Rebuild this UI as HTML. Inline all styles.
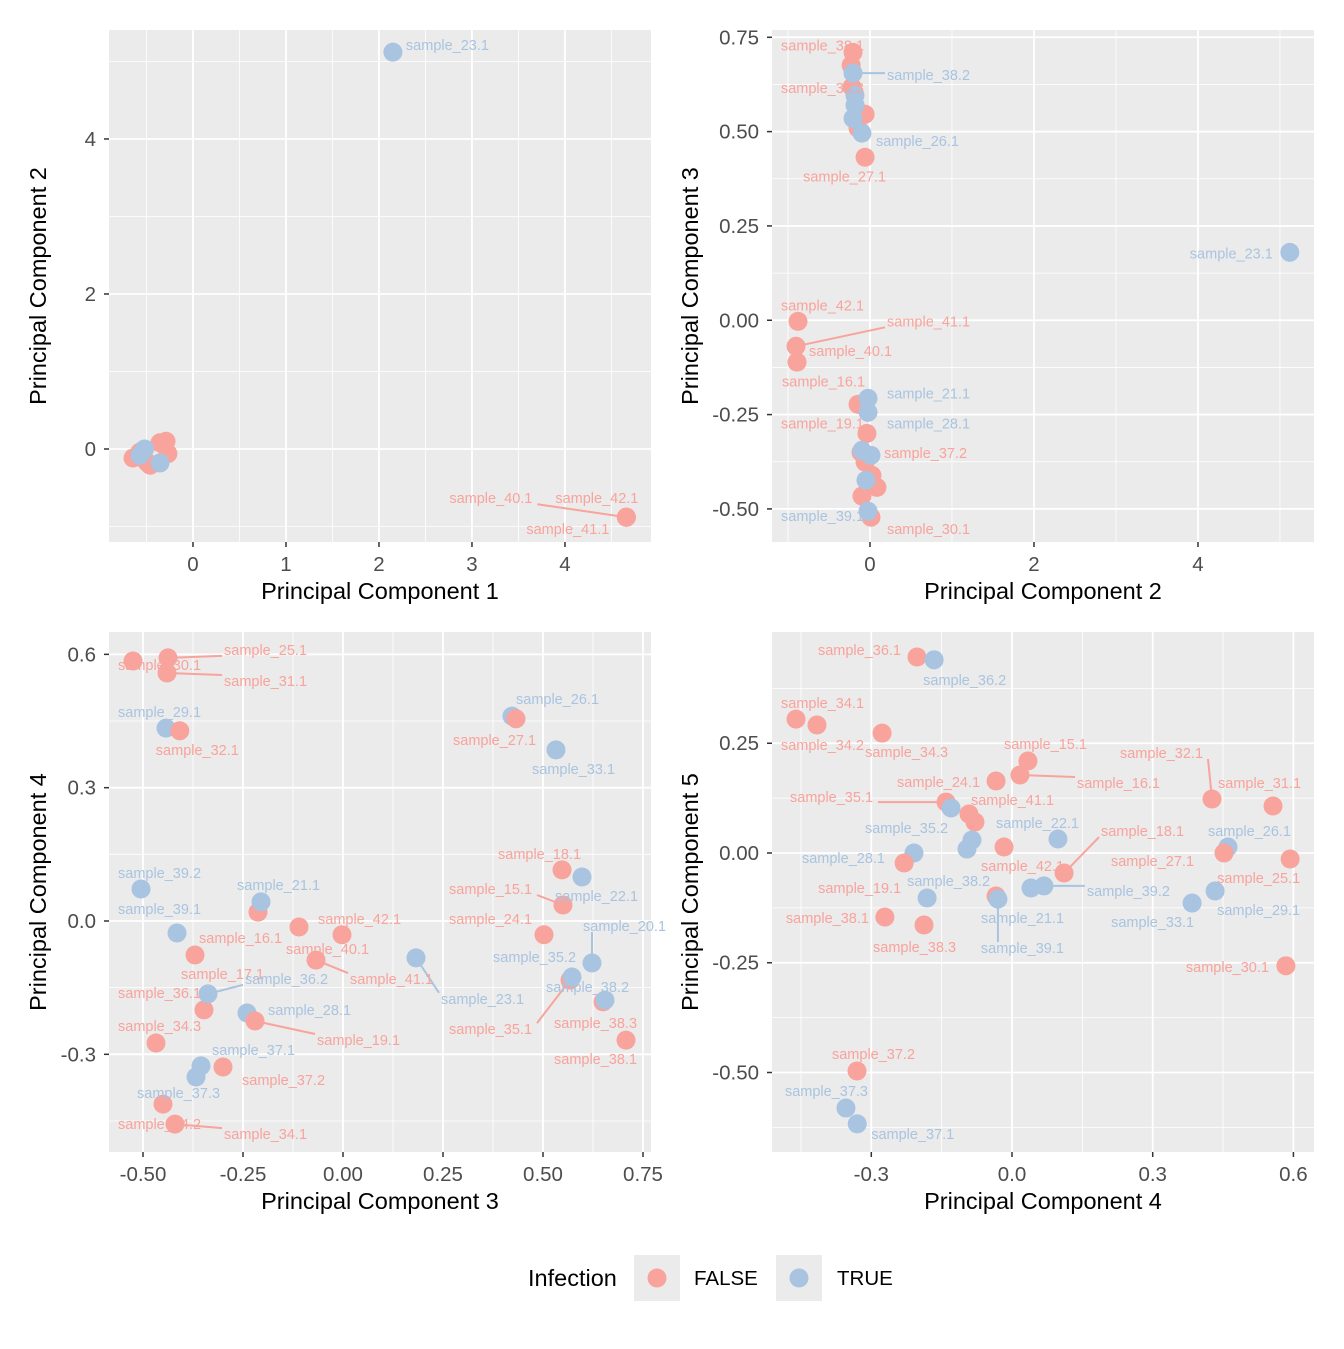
<!DOCTYPE html>
<html><head><meta charset="utf-8">
<style>
body{margin:0;background:#fff;}
svg text{font-family:"Liberation Sans",sans-serif;}
</style></head>
<body>
<svg id="chart" width="1344" height="1344" xmlns="http://www.w3.org/2000/svg">
<rect width="1344" height="1344" fill="#fff"/>
</svg>
<script>
// Panel 1 data: PC1 vs PC2
const p1Points = [
 [-0.645,-0.116,"F",""],[-0.57,-0.04,"F",""],[-0.495,-0.17,"F",""],[-0.355,0.08,"F",""],
 [-0.29,0.10,"F",""],[-0.27,-0.06,"F",""],[-0.46,-0.21,"F",""],
 [-0.52,0.0,"T",""],[-0.355,-0.18,"T",""],[-0.57,-0.08,"T",""],
 [2.15,5.12,"T","sample_23.1",13,-7,0],
 [4.66,-0.88,"F","sample_40.1",-177,-19,1],
 [4.66,-0.88,"F","sample_42.1",-71,-19,0],
 [4.66,-0.88,"F","sample_41.1",-100,12,0]
];
const p1XTicks=[0,1,2,3,4];
const p1YTicks=[0,2,4];
// Panel 2: PC2 vs PC3
const p2Points = [
 [-0.207,0.710,"F","sample_38.1",-72,-7,0],
 [-0.23,0.676,"F","",0,0,0],
 [-0.22,0.618,"F","sample_38.3",-71,1,0],
 [-0.06,0.546,"F","",0,0,0],
 [-0.146,0.509,"F","",0,0,0],
 [-0.06,0.432,"F","sample_27.1",-62,19,0],
 [-0.878,-0.003,"F","sample_42.1",-17,-16,0],
 [-0.902,-0.069,"F","sample_41.1",91,-25,1],
 [-0.89,-0.111,"F","sample_40.1",12,-11,0],
 [-0.146,-0.223,"F","sample_16.1",-76,-23,0],
 [-0.037,-0.300,"F","sample_19.1",-86,-10,0],
 [-0.06,-0.376,"F","sample_37.2",19,-9,0],
 [-0.11,-0.35,"F","",0,0,0],
 [0.024,-0.411,"F","",0,0,0],
 [0.085,-0.443,"F","",0,0,0],
 [-0.098,-0.466,"F","",0,0,0],
 [0.012,-0.522,"F","sample_30.1",16,12,0],
 [-0.207,0.655,"T","sample_38.2",34,2,1],
 [-0.183,0.596,"T","",0,0,0],
 [-0.183,0.570,"T","",0,0,0],
 [-0.207,0.535,"T","",0,0,0],
 [-0.098,0.496,"T","sample_26.1",14,8,0],
 [5.12,0.180,"T","sample_23.1",-100,1,0],
 [-0.024,-0.207,"T","sample_21.1",19,-5,0],
 [-0.024,-0.244,"T","sample_28.1",19,11,0],
 [-0.098,-0.345,"T","",0,0,0],
 [0.012,-0.358,"T","",0,0,0],
 [-0.049,-0.424,"T","",0,0,0],
 [-0.024,-0.506,"T","sample_39.1",-87,5,0]
];
const p2XTicks=[0,2,4];
const p2YTicks=[-0.5,-0.25,0,0.25,0.5,0.75];
// Panel 3: PC3 vs PC4
const p3Points = [
 [-0.4375,0.592,"F","sample_25.1",56,-8,1],
 [-0.525,0.585,"F","sample_30.1",-15,4,0],
 [-0.44,0.558,"F","sample_31.1",57,8,1],
 [-0.4425,0.434,"T","sample_29.1",-48,-16,0],
 [-0.408,0.428,"F","sample_32.1",-24,19,0],
 [0.4225,0.461,"T","sample_26.1",4,-17,0],
 [0.4325,0.455,"F","sample_27.1",-63,21,0],
 [0.5325,0.385,"T","sample_33.1",-24,19,0],
 [0.5475,0.115,"F","sample_18.1",-64,-16,0],
 [0.55,0.036,"F","sample_15.1",-114,-16,1],
 [0.5975,0.099,"T","sample_22.1",-27,19,0],
 [0.5025,-0.031,"F","sample_24.1",-95,-16,0],
 [0.6225,-0.0945,"T","sample_20.1",-9,-37,1],
 [0.5675,-0.133,"F","sample_35.1",-121,49,1],
 [0.5725,-0.126,"T","sample_35.2",-79,-20,0],
 [0.65,-0.182,"F","sample_38.3",-49,21,0],
 [0.655,-0.178,"T","sample_38.2",-59,-13,0],
 [0.7075,-0.268,"F","sample_38.1",-72,19,0],
 [-0.505,0.072,"T","sample_39.2",-23,-16,0],
 [-0.415,-0.027,"T","sample_39.1",-59,-24,0],
 [-0.2125,0.02,"F","sample_16.1",-59,26,0],
 [-0.205,0.043,"T","sample_21.1",-24,-17,0],
 [-0.37,-0.0765,"F","sample_17.1",-14,19,0],
 [-0.0025,-0.031,"F","sample_42.1",-24,-16,0],
 [-0.11,-0.0135,"F","sample_40.1",-13,22,0],
 [-0.0675,-0.088,"F","sample_41.1",34,19,1],
 [0.1825,-0.083,"T","sample_23.1",25,41,1],
 [-0.3475,-0.2,"F","sample_36.1",-86,-17,0],
 [-0.3375,-0.164,"T","sample_36.2",37,-15,1],
 [-0.24,-0.207,"T","sample_28.1",21,-3,0],
 [-0.22,-0.225,"F","sample_19.1",62,19,1],
 [-0.4675,-0.2745,"F","sample_34.3",-38,-17,0],
 [-0.3,-0.3285,"F","sample_37.2",19,13,0],
 [-0.355,-0.326,"T","sample_37.1",11,-16,0],
 [-0.3675,-0.351,"T","sample_37.3",-59,16,0],
 [-0.45,-0.412,"F","sample_34.2",-45,20,0],
 [-0.42,-0.457,"F","sample_34.1",49,10,1]
];
const p3XTicks=[-0.5,-0.25,0,0.25,0.5,0.75];
const p3XLabels=["-0.50","-0.25","0.00","0.25","0.50","0.75"];
const p3YTicks=[-0.3,0,0.3,0.6];
const p3YLabels=["-0.3","0.0","0.3","0.6"];
// Panel 4: PC4 vs PC5
const p4Points = [
 [-0.2026,0.4465,"F","sample_36.1",-99,-7,0],
 [-0.166,0.44,"T","sample_36.2",-11,20,0],
 [-0.4605,0.305,"F","sample_34.1",-15,-16,0],
 [-0.4158,0.2916,"F","sample_34.2",-36,20,0],
 [-0.277,0.273,"F","sample_34.3",-17,19,0],
 [0.034,0.2096,"F","sample_15.1",-24,-17,0],
 [-0.034,0.164,"F","sample_24.1",-99,1,0],
 [0.017,0.1777,"F","sample_16.1",57,8,1],
 [0.4264,0.123,"F","sample_32.1",-92,-46,1],
 [0.5565,0.107,"F","sample_31.1",-55,-23,0],
 [-0.1407,0.116,"F","sample_35.1",-156,-5,1],
 [-0.0917,0.0888,"F","sample_41.1",2,-14,0],
 [-0.079,0.0706,"F","",0,0,0],
 [-0.130,0.1025,"T","",0,0,0],
 [-0.0853,0.0296,"T","sample_35.2",-107,-12,0],
 [0.098,0.0319,"T","sample_22.1",-62,-16,0],
 [0.111,-0.0456,"F","sample_18.1",37,-42,1],
 [0.4605,0.0137,"T","sample_26.1",-20,-16,0],
 [-0.209,0.0,"T","sample_28.1",-112,5,0],
 [-0.096,0.009,"T","",0,0,0],
 [0.452,0.0,"F","sample_27.1",-113,8,0],
 [0.593,-0.0137,"F","sample_25.1",-73,19,0],
 [0.433,-0.0866,"T","sample_29.1",2,19,0],
 [0.384,-0.114,"T","sample_33.1",-81,19,0],
 [-0.017,0.0137,"F","",0,0,0],
 [-0.23,-0.0228,"F","sample_19.1",-86,25,0],
 [-0.034,-0.098,"F","sample_42.1",-15,-30,0],
 [0.068,-0.075,"T","sample_39.2",43,5,1],
 [-0.181,-0.1025,"T","sample_38.2",-20,-17,0],
 [0.0405,-0.0797,"T","sample_21.1",-50,30,0],
 [-0.03,-0.105,"T","sample_39.1",-17,49,1],
 [-0.271,-0.146,"F","sample_38.1",-99,1,0],
 [-0.1876,-0.164,"F","sample_38.3",-51,22,0],
 [0.584,-0.257,"F","sample_30.1",-100,1,0],
 [-0.3305,-0.4966,"F","sample_37.2",-25,-17,0],
 [-0.354,-0.581,"T","sample_37.3",-61,-17,0],
 [-0.33,-0.617,"T","sample_37.1",14,10,0]
];
const p4XTicks=[-0.3,0,0.3,0.6];
const p4XLabels=["-0.3","0.0","0.3","0.6"];
const p4YTicks=[-0.5,-0.25,0,0.25];
const p4YLabels=["-0.50","-0.25","0.00","0.25"];

const NS="http://www.w3.org/2000/svg";
const svg=document.getElementById('chart');
const COL={F:"#F8A39B",T:"#A8C4E0"};
function mk(tag,attrs,parent){const e=document.createElementNS(NS,tag);for(const k in attrs)e.setAttribute(k,attrs[k]);(parent||svg).appendChild(e);return e;}

function panel(cfg){
  const g=mk('g',{});
  
  
  const {L,R,T,B,x0,x1,y0,y1}=cfg;
  const sx=v=>L+(v-x0)/(x1-x0)*(R-L);
  const sy=v=>B-(v-y0)/(y1-y0)*(B-T);
  const bg=mk('rect',{x:L,y:T,width:R-L,height:B-T,fill:"#EBEBEB"},g);
  
  
  const xt=cfg.xt, yt=cfg.yt;
  const dx=xt[1]-xt[0], dy=yt[1]-yt[0];
  for(let v=xt[0]-dx/2; v<=x1; v+=dx){ if(v<x0)continue; const p=sx(v); const l=mk('line',{x1:p,x2:p,y1:T,y2:B,stroke:"#fff","stroke-width":0.8},g);  }
  for(let v=yt[0]-dy/2; v<=y1; v+=dy){ if(v<y0)continue; const p=sy(v); const l=mk('line',{x1:L,x2:R,y1:p,y2:p,stroke:"#fff","stroke-width":0.8},g);  }
  xt.forEach((v,i)=>{const p=sx(v);
    const l=mk('line',{x1:p,x2:p,y1:T,y2:B,stroke:"#fff","stroke-width":1.8},g);
     
    const tk=mk('line',{x1:p,x2:p,y1:B,y2:B+5,stroke:"#333","stroke-width":1.5},g);
     
    const t=mk('text',{x:p,y:B+29,"text-anchor":"middle","font-size":20.5,fill:"#4D4D4D"},g);
    t.textContent=cfg.xl?cfg.xl[i]:String(v);
     
  });
  yt.forEach((v,i)=>{const p=sy(v);
    const l=mk('line',{x1:L,x2:R,y1:p,y2:p,stroke:"#fff","stroke-width":1.8},g);
     
    const tk=mk('line',{x1:L-5,x2:L,y1:p,y2:p,stroke:"#333","stroke-width":1.5},g);
     
    const t=mk('text',{x:L-13,y:p+7,"text-anchor":"end","font-size":20.5,fill:"#4D4D4D"},g);
    t.textContent=cfg.yl?cfg.yl[i]:String(v);
     
  });
  const xtT=mk('text',{x:(L+R)/2,y:B+57,"text-anchor":"middle","font-size":23.5,fill:"#000"},g);
  xtT.textContent=cfg.xTitle;
   
  const ytT=mk('text',{x:0,y:0,"text-anchor":"middle","font-size":23.5,fill:"#000",transform:`translate(${cfg.ytx},${(T+B)/2}) rotate(-90)`},g);
  ytT.textContent=cfg.yTitle;
   
  const W=86,H=12;
  cfg.pts.forEach(p=>{ if(!p[3]||!p[6])return;
    const px=sx(p[0]),py=sy(p[1]); const lx=px+p[4], ly=py+p[5];
    const ex=Math.min(Math.max(px,lx-2),lx+W+2), ey=Math.min(Math.max(py,ly-H/2),ly+H/2);
    const s=mk('line',{x1:px,y1:py,x2:ex,y2:ey,stroke:COL[p[2]],"stroke-width":2},g);
     
  });
  cfg.pts.forEach(p=>{
    const c=mk('circle',{cx:sx(p[0]),cy:sy(p[1]),r:9.5,fill:COL[p[2]]},g);
     
  });
  cfg.pts.forEach(p=>{ if(!p[3])return;
    const t=mk('text',{x:sx(p[0])+p[4],y:sy(p[1])+p[5]+5,"font-size":14.5,fill:COL[p[2]]},g);
    t.textContent=p[3];
     
  });
}
panel({name:'panel-pc1-pc2',ytx:46,L:109,R:651,T:30,B:542,x0:-0.903,x1:4.925,y0:-1.2,y1:5.406,xt:p1XTicks,yt:p1YTicks,pts:p1Points,xTitle:"Principal Component 1",yTitle:"Principal Component 2"});
panel({name:'panel-pc2-pc3',ytx:698,L:772,R:1314,T:30,B:542,x0:-1.195,x1:5.415,y0:-0.5877,y1:0.7693,xt:p2XTicks,yt:p2YTicks,yl:["-0.50","-0.25","0.00","0.25","0.50","0.75"],pts:p2Points,xTitle:"Principal Component 2",yTitle:"Principal Component 3"});
panel({name:'panel-pc3-pc4',ytx:46,L:109,R:651,T:632,B:1152,x0:-0.585,x1:0.77,y0:-0.5198,y1:0.6503,xt:p3XTicks,xl:p3XLabels,yt:p3YTicks,yl:p3YLabels,pts:p3Points,xTitle:"Principal Component 3",yTitle:"Principal Component 4"});
panel({name:'panel-pc4-pc5',ytx:698,L:772,R:1314,T:632,B:1152,x0:-0.5117,x1:0.6439,y0:-0.6811,y1:0.5034,xt:p4XTicks,xl:p4XLabels,yt:p4YTicks,yl:p4YLabels,pts:p4Points,xTitle:"Principal Component 4",yTitle:"Principal Component 5"});

const lg=mk('g',{});


const lt=mk('text',{x:528,y:1286,"font-size":23.5,fill:"#000"},lg);
lt.textContent="Infection";
 
[["F",634,"FALSE",694],["T",776,"TRUE",837]].forEach(e=>{
  const k=mk('rect',{x:e[1],y:1255,width:46,height:46,fill:"#EBEBEB"},lg);
   
  const c=mk('circle',{cx:e[1]+23,cy:1278,r:9.5,fill:COL[e[0]]},lg);
   
  const t=mk('text',{x:e[3],y:1285,"font-size":20.5,fill:"#000"},lg);
  t.textContent=e[2];
   
});
</script>
</body></html>
